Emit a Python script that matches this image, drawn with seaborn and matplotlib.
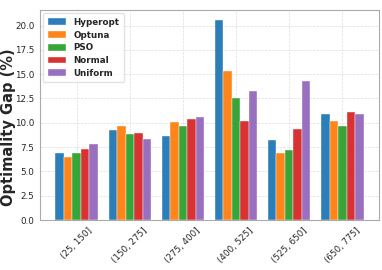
import matplotlib
matplotlib.use("Agg")
import matplotlib.pyplot as plt
import seaborn as sns
import pandas as pd

categories = ["(25, 150]", "(150, 275]", "(275, 400]", "(400, 525]", "(525, 650]", "(650, 775]"]
methods = ["Hyperopt", "Optuna", "PSO", "Normal", "Uniform"]
hyperopt = [6.85, 9.25, 8.6, 20.55, 8.2, 10.9]
optuna = [6.45, 9.72, 10.07, 15.33, 6.9, 10.2]
pso = [6.9, 8.87, 9.72, 12.6, 7.17, 9.67]
normal = [7.35, 9.0, 10.41, 10.23, 9.35, 11.1]
uniform = [7.84, 8.35, 10.6, 13.25, 14.3, 10.9]

series = [hyperopt, optuna, pso, normal, uniform]
rows = []
for m, vals in zip(methods, series):
    for c, v in zip(categories, vals):
        rows.append({"Range": c, "Method": m, "Gap": v})
df = pd.DataFrame(rows)

sns.set_theme(style="whitegrid")
plt.rcParams["font.family"] = ["DejaVu Sans"]

fig = plt.figure(figsize=(3.82, 2.70), dpi=100)
ax = fig.add_axes([40/382, 50/270, 339/382, 210/270])

sns.barplot(data=df, x="Range", y="Gap", hue="Method", palette="tab10",
            order=categories, hue_order=methods, ax=ax, width=0.8,
            saturation=1, edgecolor="white", linewidth=0.3, alpha=0.95)

ax.set_xlim(-0.69, 5.69)
ax.set_ylim(0, 21.6)
ax.set_yticks([0, 2.5, 5, 7.5, 10, 12.5, 15, 17.5, 20])
ax.set_yticklabels(["0.0", "2.5", "5.0", "7.5", "10.0", "12.5", "15.0", "17.5", "20.0"])
ax.set_xlabel("")
ax.set_ylabel("Optimality Gap (%)", fontsize=10.5, fontweight="bold")
ax.yaxis.set_label_coords(-0.07, 0.44)
ax.tick_params(axis="both", labelsize=6.3, length=2.5, width=0.5, color="#999999", pad=1.5)
plt.setp(ax.get_xticklabels(), rotation=45, ha="center")
ax.grid(True, linestyle="--", linewidth=0.5, color="#dddddd")
for s in ax.spines.values():
    s.set_color("#aaaaaa")
    s.set_linewidth(0.8)

leg = ax.legend(loc="upper left", prop={"weight": "bold", "size": 6.3},
                frameon=True, handlelength=2.1, handleheight=0.8, borderpad=0.55,
                labelspacing=0.42, borderaxespad=0.35, handletextpad=0.8)
leg.get_frame().set_edgecolor("#dddddd")

fig.savefig("out.png", dpi=100)
